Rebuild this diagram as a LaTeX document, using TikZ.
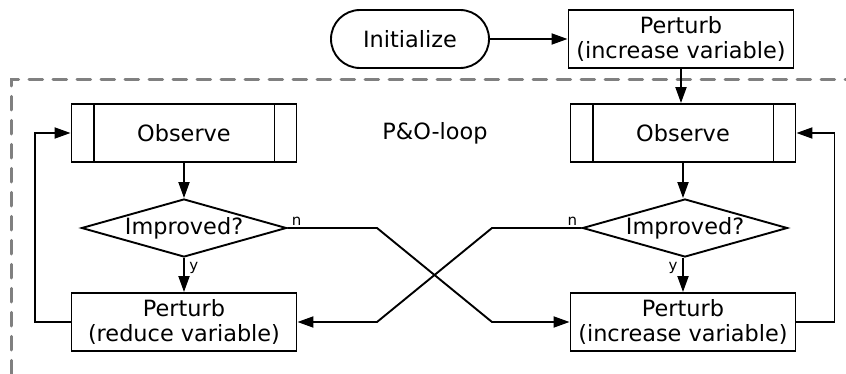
\documentclass[tikz,border=0pt]{standalone}
\usepackage{fontspec}
\setmainfont{DejaVu Sans}
\usetikzlibrary{shapes.geometric,arrows.meta}
\begin{document}
\begin{tikzpicture}[x=0.5pt,y=-0.5pt,
  every node/.style={font=\fontsize{11.2}{12.5}\selectfont},
  box/.style={draw,line width=0.95pt,minimum width=112.5pt,minimum height=29pt,inner sep=0pt,align=center},
  startbox/.style={draw,line width=0.95pt,minimum width=79pt,minimum height=29pt,inner sep=0pt,rounded corners=14.5pt},
  decision/.style={draw,diamond,line width=0.95pt,minimum width=102.5pt,minimum height=29pt,aspect=3.5,inner sep=0pt},
  lab/.style={font=\fontsize{7.5}{8}\selectfont,inner sep=1pt},
  arr/.style={line width=0.95pt,-{Triangle[length=8pt,width=5.5pt]}},
  link/.style={line width=0.95pt},
  frame/.style={draw=black!50,line width=1.5pt,line cap=round,dash pattern=on 6.8pt off 5.2pt}]
\useasboundingbox (0,0) rectangle (846,374);

% loop frame (open towards the right and bottom)
\draw[frame] (11,374) -- (11,80) -- (846,80);

% nodes
\node[startbox] (init) at (410,39) {Initialize};
\node[box] (tp) at (681,39) {Perturb\\(increase variable)};

\node[box] (obsL) at (184,133) {Observe};
\node[box] (obsR) at (683,133) {Observe};
\foreach \o in {obsL,obsR}{
  \draw[link] ([xshift=11.5pt]\o.north west) -- ([xshift=11.5pt]\o.south west);
  \draw[link] ([xshift=-11.5pt]\o.north east) -- ([xshift=-11.5pt]\o.south east);
}
\node (loop) at (435,133) {P\&O-loop};

\node[decision] (dL) at (184,228) {Improved?};
\node[decision] (dR) at (685,228) {Improved?};

\node[box] (pL) at (184,322) {Perturb\\(reduce variable)};
\node[box] (pR) at (683,322) {Perturb\\(increase variable)};

% bend points of the crossing branches
\coordinate (a1) at (377,228);
\coordinate (a2) at (492,322);
\coordinate (b1) at (492,228);
\coordinate (b2) at (377,322);

% connectors
\draw[arr] (init) -- (tp);
\draw[arr] (tp.south) -- (tp.south |- obsR.north);
\draw[arr] (obsL) -- (dL);
\draw[arr] (obsR) -- (dR.north -| obsR);
\draw[arr] (dL.south) -- (pL.north);
\draw[arr] (dR.south -| pR) -- (pR.north);
\draw[arr] (pL.west) -- ++(-36,0) |- (obsL.west);
\draw[arr] (pR.east) -- ++(38,0) |- (obsR.east);
\draw[arr] (dL.east) -- (a1) -- (a2) -- (pR.west);
\draw[arr] (dR.west) -- (b1) -- (b2) -- (pL.west -| pL.east);

% branch labels
\node[lab,anchor=south west] (nL) at ([xshift=1pt]dL.east) {n};
\node[lab,anchor=south east] (nR) at ([xshift=-1pt]dR.west) {n};
\node[lab,anchor=north west] (yL) at ([xshift=1.5pt,yshift=-1pt]dL.south) {y};
\node[lab,anchor=north east] (yR) at ([xshift=-1.5pt,yshift=-1pt]dR.south -| pR) {y};
\end{tikzpicture}
\end{document}
